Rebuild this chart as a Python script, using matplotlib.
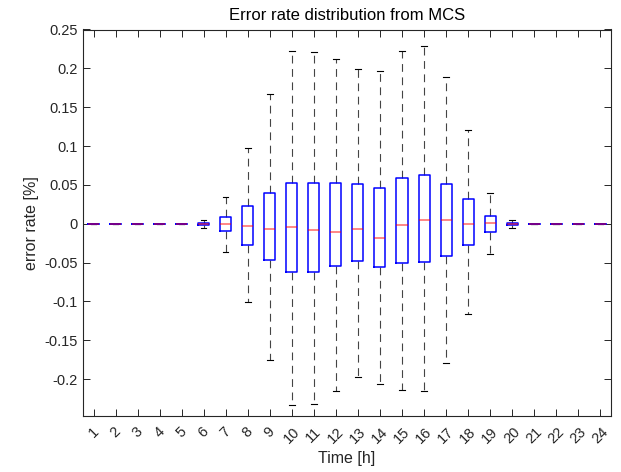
import matplotlib
matplotlib.use("Agg")
import matplotlib.pyplot as plt

plt.rcParams['font.family'] = ['Liberation Sans', 'DejaVu Sans']

hours = list(range(1, 25))
tick_labels = [str(h) for h in hours]
medians = [0, 0, 0, 0, 0, 0.0, 0.000, -0.003, -0.007, -0.004, -0.0087, -0.011,
           -0.0073, -0.019, -0.0013, 0.0043, 0.0048, -0.001, 0.0004, 0.0,
           0, 0, 0, 0]
q1 = [0, 0, 0, 0, 0, -0.0012, -0.010, -0.0276, -0.0466, -0.0618, -0.0618, -0.0548,
      -0.0484, -0.0553, -0.051, -0.0488, -0.0415, -0.0276, -0.0104, -0.0012,
      0, 0, 0, 0]
q3 = [0, 0, 0, 0, 0, 0.0012, 0.0087, 0.0224, 0.039, 0.0527, 0.0518, 0.0527,
      0.0514, 0.0458, 0.0587, 0.063, 0.0514, 0.032, 0.0095, 0.0012,
      0, 0, 0, 0]
whis_lo = [0, 0, 0, 0, 0, -0.0055, -0.037, -0.101, -0.175, -0.233, -0.232, -0.215,
           -0.197, -0.207, -0.214, -0.215, -0.179, -0.116, -0.039, -0.006,
           0, 0, 0, 0]
whis_hi = [0, 0, 0, 0, 0, 0.0045, 0.035, 0.097, 0.167, 0.222, 0.221, 0.212,
           0.199, 0.197, 0.222, 0.229, 0.189, 0.121, 0.039, 0.005,
           0, 0, 0, 0]
ytick_vals = [-0.2, -0.15, -0.1, -0.05, 0, 0.05, 0.1, 0.15, 0.2, 0.25]
ytick_labels = ['-0.2', '-0.15', '-0.1', '-0.05', '0', '0.05', '0.1', '0.15', '0.2', '0.25']

stats = []
for i in range(len(hours)):
    stats.append(dict(med=medians[i], q1=q1[i], q3=q3[i],
                      whislo=whis_lo[i], whishi=whis_hi[i], fliers=[]))

fig = plt.figure(figsize=(6.21, 4.72), dpi=100)
ax = fig.add_axes([0.1329, 0.1186, 0.9844 - 0.1329, 0.9375 - 0.1186])

ax.bxp(stats, positions=hours, widths=0.5, capwidths=0.25, showfliers=False,
       boxprops=dict(color='#0000ff', linewidth=1.1, zorder=2),
       medianprops=dict(color='#ff0000', linewidth=1.1, alpha=0.6, zorder=2.1),
       whiskerprops=dict(color='#444444', linewidth=0.8, linestyle=(0, (7, 5)), zorder=1.5),
       capprops=dict(color='#000000', linewidth=0.8, zorder=1.5))

ax.set_xlim(0.5, 24.5)
ax.set_ylim(-0.2476, 0.25)
ax.set_xticks(hours)
ax.set_xticklabels(tick_labels, rotation=45, ha='center', fontsize=10.5, color='#262626')
ax.set_yticks(ytick_vals)
ax.set_yticklabels(ytick_labels, fontsize=10.5, color='#262626')
ax.tick_params(direction='in', length=5, width=0.7, top=True, right=True,
               colors='#262626', labelcolor='#262626')
ax.tick_params(axis='x', pad=6)
for s in ax.spines.values():
    s.set_linewidth(0.8)
    s.set_color('#262626')

ax.set_title('Error rate distribution from MCS', fontsize=12, color='#000000', pad=7)
ax.set_xlabel('Time [h]', fontsize=11.5, color='#262626')
ax.set_ylabel('error rate [%]', fontsize=11.5, color='#262626')

fig.savefig('out.png', dpi=100)
